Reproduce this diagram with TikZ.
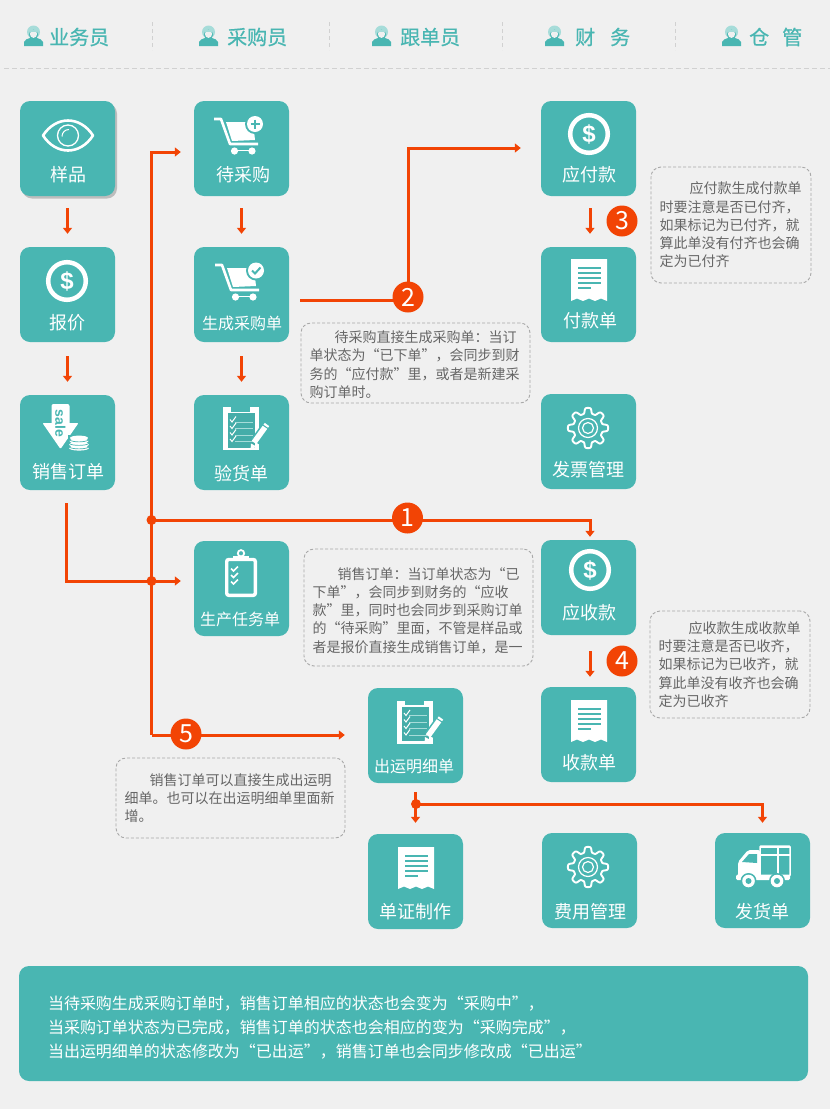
\documentclass[tikz,border=0pt]{standalone}
\usepackage{fontspec}
\setmainfont{Noto Sans CJK SC}
\newfontfamily\latinbold{Liberation Sans}
\newfontfamily\rolefont[FakeBold=0.6]{Noto Sans CJK SC}
\usetikzlibrary{arrows.meta,shadows}
\definecolor{bgpage}{HTML}{F0F0F0}
\definecolor{tilecol}{HTML}{49B6B2}
\definecolor{tilelight}{HTML}{A6DCD9}
\definecolor{flowcol}{HTML}{F24405}
\definecolor{notecol}{HTML}{A8A8A8}
\definecolor{notetext}{HTML}{666666}
\tikzset{
  tile/.style={fill=tilecol,rounded corners=10pt,minimum width=95pt,minimum height=95pt,inner sep=0pt},
  tilelabel/.style={text=white,font=\fontsize{18}{20}\selectfont,inner sep=0pt},
  tilesmall/.style={text=white,font=\fontsize{16}{18}\selectfont,inner sep=0pt},
  role/.style={text=tilecol,anchor=west,inner sep=0pt,font=\fontsize{20}{22}\selectfont\rolefont},
  sepline/.style={draw=black!18,line width=1pt,dash pattern=on 4pt off 3pt},
  flow/.style={draw=flowcol,line width=3pt,-{Triangle[length=6pt,width=9pt]},shorten >=13pt,shorten <=12pt},
  branch/.style={draw=flowcol,line width=3pt,-{Triangle[length=6pt,width=9pt]}},
  badge/.style={circle,fill=flowcol,text=white,minimum size=31pt,inner sep=0pt,font=\fontsize{25}{25}\selectfont},
  note/.style={draw=notecol,dash pattern=on 3pt off 2pt,line width=.9pt,rounded corners=10pt,align=left,text=notetext,
    inner xsep=8.5pt,inner ysep=0pt,font=\fontsize{14}{18.2}\selectfont},
  pics/person/.style={code={
    \fill[tilecol] (-9.5,10) -- (-9.5,6) .. controls (-9,3.5) and (-6,3) .. (-3.5,2) -- (3.5,2) .. controls (6,3) and (9,3.5) .. (9.5,6) -- (9.5,10) -- cycle;
    \fill[tilelight] (0,-4) circle (6.5);
    \fill[tilecol] (0,-1.5) ellipse (4.6 and 4.8);
    \fill[bgpage] (0,-2) ellipse (3.6 and 3.9);
    \fill[tilelight] (-4,-6) rectangle (3,-4.5);
  }},
  pics/eye/.style={code={
    \draw[white,line width=2.6pt,line join=round] (-25,0) .. controls (-12,-20) and (12,-20) .. (25,0) .. controls (12,20) and (-12,20) .. (-25,0) -- cycle;
    \draw[white,line width=1.3pt] (0,0) circle (10.5);
    \draw[white,line width=1pt] (-6,1) .. controls (-6,-3) and (-3,-6) .. (1,-6);
  }},
  pics/cart/.style={code={
    \draw[white,line width=2.6pt,line join=round] (-24,-17) -- (-17,-17) -- (-8,8) -- (20,8);
    \fill[white] (-12,-14) -- (15,-14) -- (17,4) -- (-6,5) -- cycle;
    \fill[white] (-3.5,15) circle (3.6) (14,15) circle (3.6);
    \draw[white,line width=1.5pt] (-3.5,14.5) -- (14,14.5);
  }},
  pics/plusmark/.style={code={
    \fill[tilecol] (0,0) circle (10);
    \fill[white] (0,0) circle (8);
    \draw[tilecol,line width=2pt] (-4.5,0) -- (4.5,0) (0,-4.5) -- (0,4.5);
  }},
  pics/checkmark/.style={code={
    \fill[tilecol] (0,0) circle (10);
    \fill[white] (0,0) circle (8);
    \draw[tilecol,line width=2pt] (-4,0) -- (-1,3) -- (4.5,-3);
  }},
  pics/coin/.style={code={
    \draw[white,line width=4.5pt] (0,0) circle (18.8);
    \node[text=white,inner sep=0pt,font=\fontsize{24}{24}\selectfont\latinbold\bfseries] (#1) at (0,0) {\$};
  }},
  pics/receipt/.style={code={
    \fill[white] (-18,-21) -- (18,-21) -- (18,21) -- (12,18.5) -- (6,21) -- (0,18.5) -- (-6,21) -- (-12,18.5) -- (-18,21) -- cycle;
    \draw[tilecol,line width=1.2pt] (-11,-12) -- (12,-12) (-11,-7) -- (12,-7) (-11,-2) -- (12,-2) (-11,3) -- (12,3) (-11,8) -- (2,8);
  }},
  pics/gear/.style={code={
    \draw[white,line width=1.9pt,line join=round] plot[domain=0:360,samples=193,smooth] (\x:{17.4+2.8*tanh(2.2*cos(8*\x))}) -- cycle;
    \draw[white,line width=1.2pt] (0,0) circle (9.5);
    \draw[white,line width=1.2pt] (0,0) circle (5.5);
  }},
  pics/checklist/.style={code={
    \fill[white] (-18,-21.5) rectangle (18,21.5);
    \fill[tilecol] (-10,-22) rectangle (9,-17);
    \fill[tilecol!95!black] (-13,-15.5) rectangle (14,19);
    \draw[tilelight,line width=1pt] (-6,-6.5) -- (12,-6.5) (-6,0) -- (12,0) (-6,6.5) -- (12,6.5) (-6,13) -- (12,13);
    \draw[white,line width=1pt] (-11,-9) -- (-9,-6.5) -- (-5,-12) (-11,-2.5) -- (-9,0) -- (-5,-5.5) (-11,4) -- (-9,6.5) -- (-5,1) (-11,10.5) -- (-9,13) -- (-5,7.5);
    \draw[tilecol,line width=9pt] (14,13) -- (26,-4);
    \draw[white,line width=5.5pt] (13,14) -- (26,-4);
    \fill[white] (9.5,21.5) -- (10,15) -- (15.5,18) -- cycle;
    \draw[tilecol,line width=1pt] (21,-4) -- (27,0);
  }},
  pics/clipboard/.style={code={
    \draw[white,line width=3.4pt,rounded corners=2pt] (-14.3,-18) rectangle (14.3,17.8);
    \draw[white,line width=1.8pt,fill=tilecol] (0,-24.2) circle (3.2);
    \fill[white] (-8,-22) rectangle (8,-17.5);
    \draw[white,line width=1.7pt] (-10,-9) -- (-7.5,-6.5) -- (-3,-11) (-10,-2.5) -- (-7.5,0) -- (-3,-4.5) (-10,4) -- (-7.5,6.5) -- (-3,2);
  }},
  pics/saledown/.style={code={
    \fill[white,rounded corners=2pt] (-9,-24) rectangle (9,0);
    \fill[white,rounded corners=1pt] (-18,-5) -- (18,-5) -- (0,21) -- cycle;
    \node[text=tilecol,rotate=-90,inner sep=0pt,font=\fontsize{14}{14}\selectfont\latinbold\bfseries] (#1) at (0,-4.5) {sale};
    \fill[tilecol] (7,6.5) rectangle (31,24);
    \fill[white] (18.5,20) ellipse (10 and 2.6) (18.5,16.5) ellipse (10 and 2.6) (18.5,13) ellipse (9.5 and 2.6) (18.5,10) ellipse (9 and 2.4);
    \draw[tilecol,line width=.7pt] (8.5,19) .. controls (12,21.5) and (25,21.5) .. (28.5,19) (8.5,15.5) .. controls (12,18) and (25,18) .. (28.5,15.5) (9,12) .. controls (13,14.5) and (24,14.5) .. (28,12);
  }},
  pics/truck/.style={code={
    \draw[white,line width=1.5pt,rounded corners=1pt] (-3,-20) rectangle (27,10);
    \fill[white] (-3,-20) rectangle (27,-18.5);
    \draw[white,line width=2pt] (-3,-11.5) -- (27,-11.5) (15,-20) -- (15,10);
    \fill[white,rounded corners=2pt] (-25,11) -- (-25,-4) -- (-15,-16) -- (-3,-16) -- (-3,11) -- cycle;
    \fill[tilecol] (-21,-4) -- (-14,-12) -- (-6,-12) -- (-6,-3) -- cycle;
    \fill[white,rounded corners=1.5pt] (-27,8.5) rectangle (27,14);
    \fill[tilecol] (-14.5,15) circle (8) (14,15) circle (8);
    \fill[white] (-14.5,15) circle (6.3) (14,15) circle (6.3);
    \fill[tilecol] (-14.5,15) circle (3) (14,15) circle (3);
  }},
}
\begin{document}
\begin{tikzpicture}[x=1pt,y=-1pt]
\fill[bgpage] (0,0) rectangle (830,1109);
\useasboundingbox (0,0) rectangle (830,1109);
% header
\pic at (33.5,36) {person};
\pic at (208.5,36) {person};
\pic at (381.5,36) {person};
\pic at (554.5,36) {person};
\pic at (731.5,36) {person};
\node[role] (roleyw) at (49,37) {业务员};
\node[role] (rolecg) at (227,37) {采购员};
\node[role] (rolegd) at (400,37) {跟单员};
\node[role] (rolecw) at (575,37) {财\hspace{15pt}务};
\node[role] (rolecs) at (749,37) {仓\hspace{13pt}管};
\draw[sepline] (152.5,22) -- (152.5,50);
\draw[sepline] (329.5,22) -- (329.5,50);
\draw[sepline] (502.5,22) -- (502.5,50);
\draw[sepline] (675,22) -- (675,50);
\draw[sepline,dash pattern=on 5pt off 3pt] (4,68.5) -- (830,68.5);
% tiles
\node[tile,drop shadow={shadow xshift=2pt,shadow yshift=-2.5pt,opacity=.45}] (yp) at (67.5,148.5) {};
\node[tile] (bj) at (67.5,294.5) {};
\node[tile] (xs) at (67.5,442.5) {};
\node[tile] (dcg) at (241.5,148.5) {};
\node[tile] (scd) at (241.5,294.5) {};
\node[tile] (yh) at (241.5,442.5) {};
\node[tile] (sc) at (241.5,588.5) {};
\node[tile] (cy) at (415.5,735.5) {};
\node[tile] (dz) at (415.5,881.5) {};
\node[tile] (yf) at (588.5,148.5) {};
\node[tile] (fk) at (588.5,294.5) {};
\node[tile] (fp) at (588.5,441.5) {};
\node[tile] (ys) at (588.5,587.5) {};
\node[tile] (sk) at (588.5,734.5) {};
\node[tile] (fy) at (589.5,880.5) {};
\node[tile] (fh) at (762.5,880.5) {};
% icons
\pic at (68,135.5) {eye};
\pic at (67,281) {coin=coinbj};
\pic at (60.5,428) {saledown=salexs};
\pic at (238,136) {cart};
\pic at (255,124) {plusmark};
\pic at (239,282) {cart};
\pic at (256,270.5) {checkmark};
\pic at (241,428.5) {checklist};
\pic at (241,577.5) {clipboard};
\pic at (415,722) {checklist};
\pic at (416,868) {receipt};
\pic at (589,134) {coin=coinyf};
\pic at (589,280) {receipt};
\pic at (588,428) {gear};
\pic at (590,570) {coin=coinys};
\pic at (589,721) {receipt};
\pic at (588,867) {gear};
\pic at (763,866) {truck};
% labels
\node[tilelabel] (yptext) at (68.5,174.5) {样品};
\node[tilelabel] (bjtext) at (67.5,322.5) {报价};
\node[tilelabel] (xstext) at (68,471.5) {销售订单};
\node[tilelabel] (dcgtext) at (243,174.5) {待采购};
\node[tilesmall] (scdtext) at (242,323.5) {生成采购单};
\node[tilelabel] (yhtext) at (241.5,473.5) {验货单};
\node[tilesmall] (sctext) at (240,619.5) {生产任务单};
\node[tilesmall] (cytext) at (414,766.5) {出运明细单};
\node[tilelabel] (dztext) at (415.5,911.5) {单证制作};
\node[tilelabel] (yftext) at (589.5,174.5) {应付款};
\node[tilelabel] (fktext) at (590,320.5) {付款单};
\node[tilelabel] (fptext) at (588.5,469.5) {发票管理};
\node[tilelabel] (ystext) at (589.5,612.5) {应收款};
\node[tilelabel] (sktext) at (589.5,762.5) {收款单};
\node[tilelabel] (fytext) at (590,911.5) {费用管理};
\node[tilelabel] (fhtext) at (762.5,911.5) {发货单};
% flow lines
\coordinate (j1) at (151.5,520);
\coordinate (j2) at (151.5,581);
\coordinate (j5) at (151.5,735);
\coordinate (turn2) at (408,300);
\coordinate (j6) at (416,804);
\draw[flow] (yp.south) -- (bj.north);
\draw[flow,shorten <=14pt] (bj.south) -- (xs.north);
\draw[flow] (dcg.south) -- (scd.north);
\draw[flow,shorten <=14pt] (scd.south) -- (yh.north);
\draw[flow,shorten <=13pt] ([xshift=-1pt]xs.south) |- ([yshift=7.5pt]sc.west);
\draw[branch,shorten >=13pt] (j5) |- ([yshift=-3.5pt]dcg.west);
\draw[branch,shorten >=23pt] (j5) -- ([yshift=.5pt]cy.west);
\draw[branch,shorten >=3pt] (j1) -| ([xshift=1.5pt]ys.north);
\draw[branch,shorten <=11pt,shorten >=20pt] ([yshift=-5.5pt]scd.east) -- (turn2) |- ([yshift=.5pt]yf.west);
\draw[flow,shorten <=12pt] ([xshift=1.5pt]yf.south) -- ([xshift=1.5pt]fk.north);
\draw[flow,shorten <=16pt,shorten >=10pt] ([xshift=1.5pt]ys.south) -- ([xshift=1.5pt]sk.north);
\draw[flow,shorten <=9pt,shorten >=11pt] (cy.south) -- (dz.north);
\draw[branch,shorten >=10pt] (j6) -| (fh.north);
\fill[flowcol] (j1) circle (5);
\fill[flowcol] (j2) circle (5);
\fill[flowcol] (j6) circle (5);
% badges
\node[badge] (b1) at (407.5,518) {1};
\node[badge] (b2) at (408,297) {2};
\node[badge] (b3) at (622,221) {3};
\node[badge] (b4) at (622,661) {4};
\node[badge] (b5) at (186,734) {5};
% notes
\node[note,text width=212pt,minimum height=80pt] (note2) at (415.5,363) {\rule{0pt}{15pt}\hspace*{25pt}待采购直接生成采购单：当订\\单状态为“已下单”，会同步到财\\务的“应付款”里，或者是新建采\\购订单时。};
\node[note,text width=143pt,minimum height=116pt] (note3) at (731,225) {\hspace*{30pt}应付款生成付款单\\时要注意是否已付齐，\\如果标记为已付齐，就\\算此单没有付齐也会确\\定为已付齐};
\node[note,text width=212pt,minimum height=117pt] (note1) at (418.5,607.5) {\rule{0pt}{18pt}\hspace*{25pt}销售订单：当订单状态为“已\\下单”，会同步到财务的“应收\\款”里，同时也会同步到采购订单\\的“待采购”里面，不管是样品或\\者是报价直接生成销售订单，是一};
\node[note,text width=143pt,minimum height=107pt] (note4) at (730,664.5) {\hspace*{30pt}应收款生成收款单\\时要注意是否已收齐，\\如果标记为已收齐，就\\算此单没有收齐也会确\\定为已收齐};
\node[note,text width=212pt,minimum height=80pt] (note5) at (230.5,798) {\hspace*{25pt}销售订单可以直接生成出运明\\细单。也可以在出运明细单里面新\\增。};
% bottom panel
\node[tile,minimum width=789pt,minimum height=115pt,text width=731pt,align=left,text=white,font=\fontsize{16}{24}\selectfont] (summary) at (413.5,1023.5) {\rule{0pt}{21pt}当待采购生成采购订单时，销售订单相应的状态也会变为“采购中”，\\当采购订单状态为已完成，销售订单的状态也会相应的变为“采购完成”，\\当出运明细单的状态修改为“已出运”，销售订单也会同步修改成“已出运”};
\end{tikzpicture}
\end{document}
